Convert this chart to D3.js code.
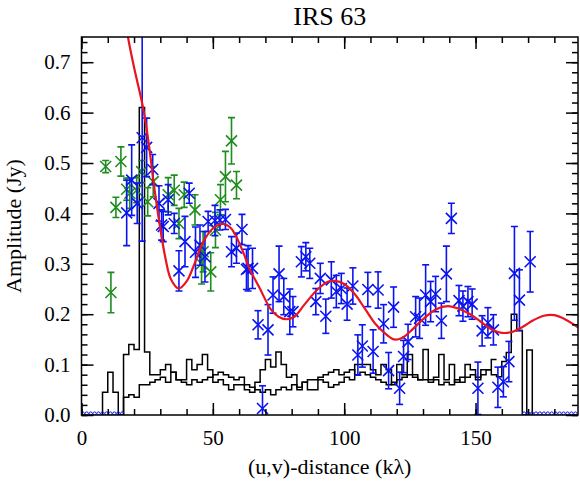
<!DOCTYPE html>
<html>
<head>
<meta charset="utf-8">
<script src="https://cdn.jsdelivr.net/npm/d3@7"></script>
<style>
  body { margin: 0; background: #fff; }
  svg { display: block; }
  text { font-family: "Liberation Serif", "Times New Roman", Times, "DejaVu Serif", serif; fill: #000; }
</style>
</head>
<body>
<svg id="chart"></svg>
<script>
var serif = '"Liberation Serif", "Times New Roman", Times, "DejaVu Serif", serif';

// axis ranges and ticks
var xDomain = [0, 189], yDomain = [0, 0.75];
var xMajor = [0, 50, 100, 150], xMinor = d3.range(0, 190, 10);
var yMajor = [0, 0.1, 0.2, 0.3, 0.4, 0.5, 0.6, 0.7], yMinor = d3.range(0, 0.751, 0.02);

// green points (x, amplitude, error)
var greenX = [9.2, 11.2, 13.1, 15.0, 17.2, 18.4, 21.0, 22.9, 25.2, 27.3, 33.0, 35.3, 37.1, 39.1, 43.2, 45.7, 46.3, 49.2, 51.0, 52.9, 54.8, 57.1, 59.0];
var greenY = [0.493, 0.243, 0.412, 0.503, 0.448, 0.44, 0.446, 0.483, 0.423, 0.463, 0.437, 0.446, 0.38, 0.437, 0.407, 0.30, 0.324, 0.284, 0.367, 0.427, 0.473, 0.544, 0.456];
var greenErr = [0.012, 0.04, 0.02, 0.029, 0.022, 0.03, 0.025, 0.022, 0.028, 0.03, 0.034, 0.03, 0.03, 0.025, 0.03, 0.04, 0.04, 0.038, 0.035, 0.03, 0.05, 0.046, 0.027];

// blue points (x, amplitude, error)
var blueX = [17.2, 19.1, 21.2, 23.1, 24.8, 27.1, 29.5, 30.5, 31.1, 33.0, 35.3, 37.1, 39.4, 41.0, 43.4, 45.1, 47.0, 48.2, 50.8, 52.7, 54.8, 57.1, 59.0, 61.1, 62.8, 63.4, 65.1, 67.2, 68.9, 71.0, 72.9, 75.2, 77.0, 79.3, 80.5, 83.7, 85.4, 86.9, 89.2, 90.9, 93.0, 95.1, 97.0, 98.9, 101.1, 103.3, 105.2, 106.9, 109.0, 111.0, 112.9, 115.0, 116.9, 118.8, 121.1, 122.6, 124.3, 127.2, 128.7, 131.0, 132.9, 134.8, 137.0, 138.9, 140.8, 143.7, 145.2, 147.1, 148.7, 150.9, 152.5, 154.7, 156.8, 158.5, 160.6, 162.7, 164.8, 166.7, 170.8];
var blueY = [0.401, 0.466, 0.42, 0.55, 0.531, 0.487, 0.42, 0.377, 0.374, 0.427, 0.38, 0.286, 0.344, 0.44, 0.323, 0.337, 0.314, 0.384, 0.386, 0.387, 0.388, 0.324, 0.331, 0.368, 0.289, 0.291, 0.291, 0.179, 0.013, 0.169, 0.238, 0.28, 0.235, 0.205, 0.205, 0.304, 0.314, 0.301, 0.225, 0.271, 0.196, 0.268, 0.245, 0.251, 0.22, 0.256, 0.119, 0.137, 0.249, 0.126, 0.248, 0.181, 0.088, 0.214, 0.053, 0.116, 0.145, 0.195, 0.192, 0.238, 0.225, 0.24, 0.187, 0.28, 0.39, 0.227, 0.216, 0.225, 0.22, 0.053, 0.167, 0.183, 0.169, 0.055, 0.066, 0.106, 0.281, 0.228, 0.304];
var blueErr = [0.065, 0.07, 0.04, 0.205, 0.058, 0.03, 0.035, 0.03, 0.03, 0.03, 0.02, 0.04, 0.05, 0.02, 0.05, 0.04, 0.05, 0.02, 0.03, 0.02, 0.02, 0.03, 0.03, 0.03, 0.04, 0.045, 0.04, 0.028, 0.045, 0.05, 0.036, 0.055, 0.036, 0.045, 0.03, 0.03, 0.028, 0.03, 0.026, 0.03, 0.034, 0.036, 0.032, 0.03, 0.032, 0.036, 0.04, 0.042, 0.034, 0.043, 0.036, 0.038, 0.036, 0.04, 0.032, 0.032, 0.035, 0.04, 0.04, 0.06, 0.04, 0.035, 0.035, 0.055, 0.03, 0.03, 0.03, 0.03, 0.03, 0.052, 0.03, 0.03, 0.03, 0.04, 0.03, 0.04, 0.093, 0.06, 0.06];

// zero-amplitude points outside the coverage
var zeroX = [0.5, 2, 3.5, 5, 6.5, 8, 9.5, 11, 12.5, 14, 15.5, 168.5, 170, 171.5, 173, 174.5, 176, 177.5, 179, 180.5, 182, 183.5, 185, 186.5, 188];

// model curve
var modelX = [17.0, 17.7, 20, 23.5, 25.4, 28, 30, 32, 34, 37, 40, 43, 46, 50, 54, 57, 61, 64, 68, 72, 75, 78, 81, 85, 90, 94, 96.4, 100, 104, 108, 112, 116, 119, 122, 126, 130, 135, 139.5, 144, 148, 152, 156, 160, 164, 168, 172, 176, 180, 184, 189];
var modelY = [0.78, 0.75, 0.69, 0.608, 0.546, 0.44, 0.37, 0.31, 0.27, 0.251, 0.265, 0.30, 0.34, 0.37, 0.379, 0.37, 0.33, 0.29, 0.25, 0.21, 0.195, 0.19, 0.195, 0.22, 0.25, 0.265, 0.266, 0.26, 0.24, 0.21, 0.18, 0.16, 0.15, 0.153, 0.17, 0.19, 0.21, 0.216, 0.21, 0.20, 0.185, 0.17, 0.163, 0.165, 0.175, 0.188, 0.197, 0.198, 0.19, 0.174];

// histograms: bin edges and heights
var histAEdges = d3.range(8, 158, 2).concat([158, 160, 161.7, 163.6, 165.7, 167.8, 169.5, 171.6]);
var histA = [0.045, 0.085, 0.045, 0.0, 0.12, 0.14, 0.13, 0.61, 0.125, 0.08,
             0.08, 0.09, 0.10, 0.085, 0.07, 0.07, 0.11, 0.09, 0.10, 0.12,
             0.09, 0.065, 0.07, 0.06, 0.05, 0.06, 0.06, 0.05, 0.045, 0.065,
             0.09, 0.11, 0.095, 0.125, 0.10, 0.075, 0.08, 0.05, 0.065, 0.05,
             0.05, 0.07, 0.065, 0.055, 0.06, 0.065, 0.075, 0.07, 0.10, 0.10,
             0.10, 0.09, 0.08, 0.10, 0.09, 0.06, 0.10, 0.08, 0.12, 0.08,
             0.07, 0.13, 0.07, 0.075, 0.12, 0.07, 0.10, 0.065, 0.075, 0.10,
             0.09, 0.07, 0.09, 0.09, 0.08,
             0.076, 0.106, 0.124, 0.20, 0.167, 0.0, 0.129];
var histBEdges = d3.range(16, 160, 2);
var histB = [0.035, 0.04, 0.035, 0.06, 0.06, 0.065, 0.07, 0.075, 0.065, 0.085,
             0.07, 0.065, 0.06, 0.07, 0.065, 0.07, 0.075, 0.08, 0.085, 0.08,
             0.075, 0.07, 0.075, 0.06, 0.055, 0.05, 0.045, 0.05, 0.04, 0.05,
             0.055, 0.05, 0.06, 0.055, 0.065, 0.07, 0.07, 0.075, 0.08, 0.085,
             0.09, 0.08, 0.085, 0.09, 0.08, 0.085, 0.08, 0.075, 0.07, 0.065,
             0.06, 0.065, 0.07, 0.075, 0.08, 0.075, 0.07, 0.07, 0.065, 0.07,
             0.06, 0.065, 0.06, 0.07, 0.065, 0.075, 0.08, 0.075, 0.08, 0.09, 0.11];

var W = 580, H = 485;
var margin = {top: 37, right: 2, bottom: 70, left: 81.5};
var width = W - margin.left - margin.right,
    height = H - margin.top - margin.bottom;

var svg = d3.select('#chart').attr('width', W).attr('height', H);

var x = d3.scaleLinear().domain(xDomain).range([0, width]);
var y = d3.scaleLinear().domain(yDomain).range([height, 0]);

var g = svg.append('g').attr('transform', 'translate(' + margin.left + ',' + margin.top + ')');

svg.append('defs').append('clipPath').attr('id', 'plotclip')
  .append('rect').attr('x', 0).attr('y', 0).attr('width', width).attr('height', height);

var plot = g.append('g').attr('clip-path', 'url(#plotclip)');

// histograms
function histPoints(edges, vals, dropEnd) {
  var pts = [[edges[0], 0]];
  vals.forEach(function(v, i) { pts.push([edges[i], v]); });
  var last = edges.length > vals.length ? edges[vals.length] : edges[vals.length - 1] + 2;
  pts.push([last, vals[vals.length - 1]]);
  if (dropEnd) pts.push([last, 0]);
  return pts;
}
var stepLine = d3.line()
  .x(function(d) { return x(d[0]); })
  .y(function(d) { return y(d[1]); })
  .curve(d3.curveStepAfter);

plot.append('path').datum(histPoints(histAEdges, histA, true))
  .attr('d', stepLine).attr('fill', 'none').attr('stroke', '#000').attr('stroke-width', 1.5);
plot.append('path').datum(histPoints(histBEdges, histB, false))
  .attr('d', stepLine).attr('fill', 'none').attr('stroke', '#000').attr('stroke-width', 1.5);

// error bars with x markers
function drawSeries(xs, ys, es, color) {
  var sg = plot.append('g').attr('stroke', color).attr('stroke-width', 1.6).attr('fill', 'none');
  xs.forEach(function(xv, i) {
    var cx = x(xv), cy = y(ys[i]), top = y(ys[i] + es[i]), bot = y(ys[i] - es[i]);
    sg.append('line').attr('x1', cx).attr('x2', cx).attr('y1', top).attr('y2', bot);
    sg.append('line').attr('x1', cx - 3.5).attr('x2', cx + 3.5).attr('y1', top).attr('y2', top);
    sg.append('line').attr('x1', cx - 3.5).attr('x2', cx + 3.5).attr('y1', bot).attr('y2', bot);
    sg.append('path').attr('d', 'M' + (cx - 5.5) + ',' + (cy - 5.5) + 'L' + (cx + 5.5) + ',' + (cy + 5.5) +
      'M' + (cx - 5.5) + ',' + (cy + 5.5) + 'L' + (cx + 5.5) + ',' + (cy - 5.5));
  });
}
drawSeries(greenX, greenY, greenErr, '#1e8c1e');
drawSeries(blueX, blueY, blueErr, '#0a14f0');

// zero points
plot.append('g').selectAll('circle').data(zeroX).enter().append('circle')
  .attr('cx', function(d) { return x(d); })
  .attr('cy', y(0) - 1.5)
  .attr('r', 1.6)
  .attr('fill', 'none').attr('stroke', '#0a14f0').attr('stroke-width', 1);

// model curve
plot.append('path').datum(d3.zip(modelX, modelY))
  .attr('d', d3.line().x(function(d) { return x(d[0]); }).y(function(d) { return y(d[1]); }).curve(d3.curveCatmullRom))
  .attr('fill', 'none').attr('stroke', '#e8141e').attr('stroke-width', 2.2);

// axes with inward ticks on all four sides
function styleAxis(sel) {
  sel.attr('font-family', null).attr('font-size', null);
  sel.select('.domain').remove();
  sel.selectAll('line').attr('stroke', '#000').attr('stroke-width', 1.5);
  sel.selectAll('text').style('font-size', '21px').style('font-family', serif);
}
g.append('g').attr('transform', 'translate(0,' + height + ')')
  .call(d3.axisBottom(x).tickValues(xMinor).tickSize(-6).tickFormat('')).call(styleAxis);
g.append('g').attr('transform', 'translate(0,' + height + ')')
  .call(d3.axisBottom(x).tickValues(xMajor).tickSize(-12).tickPadding(15).tickFormat(d3.format('d'))).call(styleAxis);
g.append('g').call(d3.axisTop(x).tickValues(xMinor).tickSize(-6).tickFormat('')).call(styleAxis);
g.append('g').call(d3.axisTop(x).tickValues(xMajor).tickSize(-12).tickFormat('')).call(styleAxis);

g.append('g').call(d3.axisLeft(y).tickValues(yMinor).tickSize(-6).tickFormat('')).call(styleAxis);
g.append('g').call(d3.axisLeft(y).tickValues(yMajor).tickSize(-12).tickPadding(11).tickFormat(d3.format('.1f'))).call(styleAxis);
g.append('g').attr('transform', 'translate(' + width + ',0)')
  .call(d3.axisRight(y).tickValues(yMinor).tickSize(-6).tickFormat('')).call(styleAxis);
g.append('g').attr('transform', 'translate(' + width + ',0)')
  .call(d3.axisRight(y).tickValues(yMajor).tickSize(-12).tickFormat('')).call(styleAxis);

g.append('rect').attr('width', width).attr('height', height)
  .attr('fill', 'none').attr('stroke', '#000').attr('stroke-width', 1.5);

// titles
svg.append('text').attr('x', margin.left + width / 2).attr('y', 25)
  .attr('text-anchor', 'middle').style('font-family', serif).style('font-size', '26px').text('IRS 63');
svg.append('text').attr('x', margin.left + width / 2).attr('y', 474)
  .attr('text-anchor', 'middle').style('font-family', serif).style('font-size', '22px').text('(u,v)-distance (kλ)');
svg.append('text').attr('transform', 'translate(21,' + (margin.top + height / 2) + ') rotate(-90)')
  .attr('text-anchor', 'middle').style('font-family', serif).style('font-size', '22px').text('Amplitude (Jy)');
</script>
</body>
</html>
